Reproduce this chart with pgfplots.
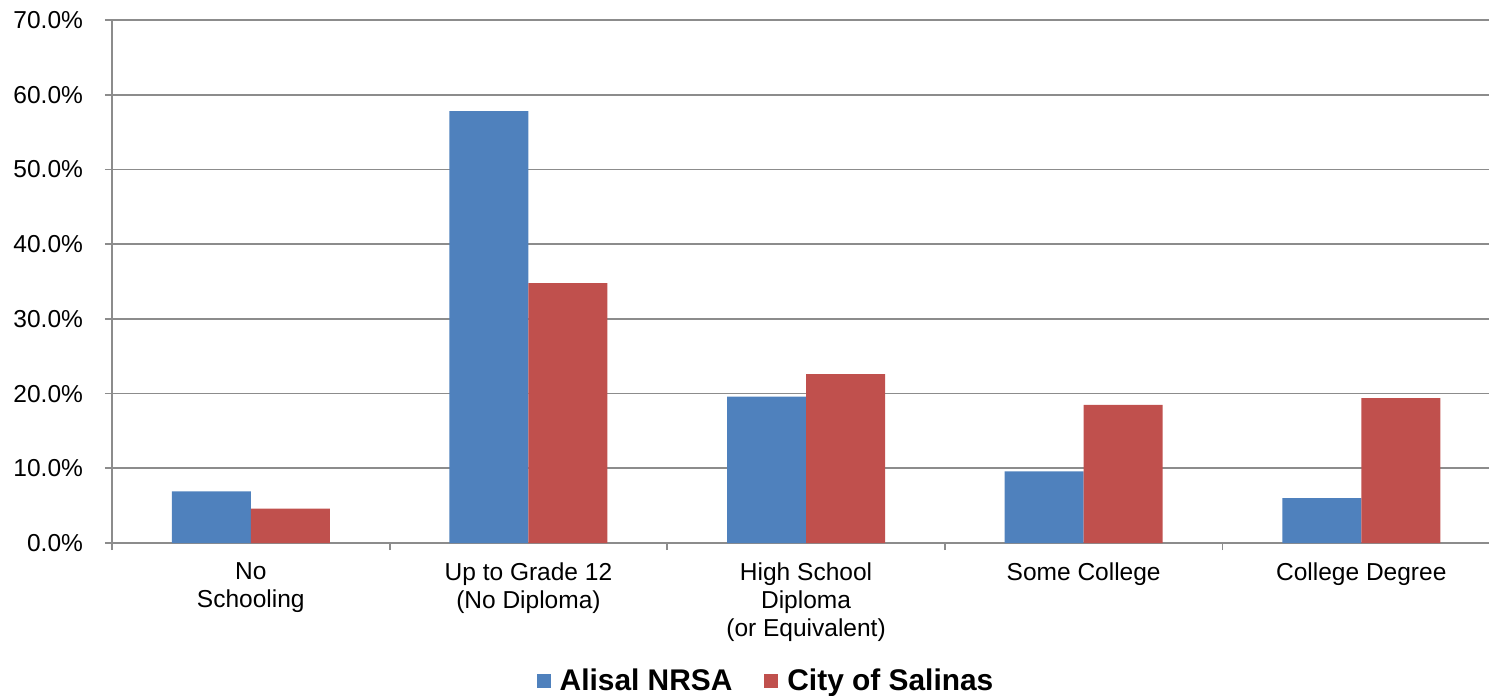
\documentclass[border=0pt]{standalone}
\usepackage{fontspec}
\setmainfont{Liberation Sans}
\usepackage{pgfplots}
\pgfplotsset{compat=1.18}
\definecolor{cblue}{HTML}{4F81BD}
\definecolor{cred}{HTML}{C0504D}
\definecolor{cgrid}{HTML}{8C8C8C}
\begin{document}
\begin{tikzpicture}
\path[use as bounding box] (0,0) rectangle (744.5bp,-348bp);
\begin{axis}[
  at={(56bp,-271.5bp)}, anchor=south west,
  scale only axis, width=688.5bp, height=261.5bp,
  ybar=0pt, bar width=39.5bp,
  xmin=-0.5, xmax=4.46, ymin=0, ymax=70,
  axis x line*=bottom, axis y line*=left,
  axis line style={cgrid, line width=0.9pt},
  ymajorgrids, grid style={cgrid, line width=0.9pt},
  ytick={0,10,...,70},
  yticklabels={0.0\%,10.0\%,20.0\%,30.0\%,40.0\%,50.0\%,60.0\%,70.0\%},
  xtick={0,1,2,3,4},
  xticklabels={{No\\Schooling},{Up to Grade 12\\(No Diploma)},{High School\\Diploma\\(or Equivalent)},{Some College},{College Degree}},
  minor xtick={-0.5,0.5,1.5,2.5,3.5},
  tick align=outside,
  major tick length=3.5bp, minor tick length=3.5bp,
  x tick style={draw=none},
  minor x tick style={draw=cgrid, line width=0.9pt},
  y tick style={draw=cgrid, line width=0.9pt},
  tick label style={font=\fontsize{12.3}{14}\selectfont},
  yticklabel style={xshift=-7.5bp},
  xticklabel style={align=center, yshift=-3bp},
  legend style={at={(0.4757,-0.264)}, anchor=center, legend columns=2, draw=none,
    font=\fontsize{15}{17}\selectfont\bfseries, /tikz/every even column/.append style={column sep=14bp}},
  legend image code/.code={\fill[#1] (0bp,-3.5bp) rectangle (7bp,3.5bp); \path (9.5bp,0bp);},
]
\addplot[fill=cblue, draw=none] coordinates {(0,6.9) (1,57.8) (2,19.6) (3,9.6) (4,6.0)};
\addplot[fill=cred, draw=none] coordinates {(0,4.6) (1,34.8) (2,22.6) (3,18.5) (4,19.4)};
\legend{Alisal NRSA, City of Salinas}
\end{axis}
\end{tikzpicture}
\end{document}
